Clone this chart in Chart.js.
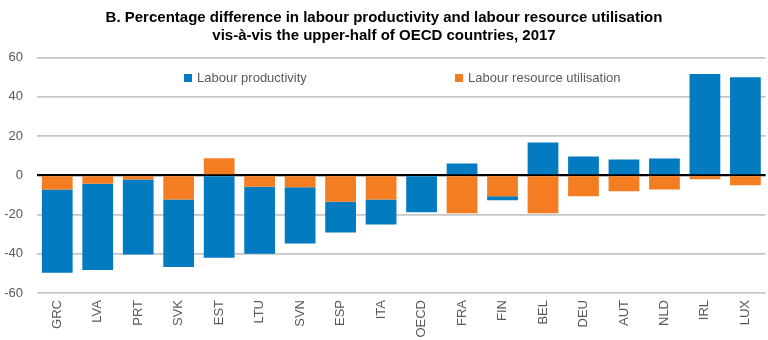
<!DOCTYPE html>
<html>
<head>
<meta charset="utf-8">
<script src="https://cdn.jsdelivr.net/npm/chart.js@4"></script>
<style>
  html, body { margin: 0; padding: 0; background: #fff; }
  #wrap { width: 768px; height: 340px; }
</style>
</head>
<body>
<div id="wrap"><canvas id="chart"></canvas></div>
<script>
const countries = ['GRC', 'LVA', 'PRT', 'SVK', 'EST', 'LTU', 'SVN', 'ESP', 'ITA', 'OECD', 'FRA', 'FIN', 'BEL', 'DEU', 'AUT', 'NLD', 'IRL', 'LUX'];
const productivity = [-42.5, -44, -38.2, -34.4, -42, -34.2, -28.7, -15.7, -12.7, -18.9, 6, -2.1, 16.7, 9.6, 8, 8.5, 51.6, 50];
const utilisation = [-7.2, -4.3, -2.2, -12.4, 8.7, -5.8, -6.1, -13.5, -12.4, 0, -19.4, -10.7, -19.4, -10.7, -8.2, -7.2, -2, -5.1];
const yTicks = [-60, -40, -20, 0, 20, 40, 60];

const FONT = "'Liberation Sans Narrow', 'Arial Narrow', 'Liberation Sans', Arial, sans-serif";
const BLUE = '#037bc1';
const ORANGE = '#f47d22';
const GREY_TEXT = '#595959';

// legend sits inside the plot, blue entry first
const innerLegend = {
    id: 'innerLegend',
    afterDraw(chart) {
        const ctx = chart.ctx;
        const items = [
            { ds: chart.data.datasets[1], x: 184 },
            { ds: chart.data.datasets[0], x: 455 }
        ];
        ctx.save();
        ctx.font = '13px ' + FONT;
        ctx.textBaseline = 'middle';
        ctx.fillStyle = GREY_TEXT;
        for (const it of items) {
            ctx.fillStyle = it.ds.backgroundColor;
            ctx.fillRect(it.x, 74, 8, 8);
            ctx.fillStyle = GREY_TEXT;
            ctx.fillText(it.ds.label, it.x + 13, 78);
        }
        ctx.restore();
    }
};

const ctx = document.getElementById('chart').getContext('2d');
new Chart(ctx, {
    type: 'bar',
    data: {
        labels: countries,
        datasets: [{
            // stacked first so it sits next to the zero line
            label: 'Labour resource utilisation',
            data: utilisation,
            backgroundColor: ORANGE,
            borderWidth: 0
        }, {
            label: 'Labour productivity',
            data: productivity,
            backgroundColor: BLUE,
            borderWidth: 0
        }]
    },
    options: {
        responsive: true,
        maintainAspectRatio: false,
        animation: false,
        layout: { padding: 0 },
        barPercentage: 0.76,
        categoryPercentage: 1,
        plugins: {
            legend: { display: false },
            tooltip: { enabled: false },
            title: {
                display: true,
                text: ['B. Percentage difference in labour productivity and labour resource utilisation',
                       'vis-\u00e0-vis the upper-half of OECD countries, 2017'],
                color: '#000',
                font: { family: FONT, size: 15, weight: 'bold', lineHeight: 1.25 },
                padding: { top: 8, bottom: 12 }
            }
        },
        scales: {
            x: {
                stacked: true,
                grid: { display: false, drawTicks: false },
                border: { display: false },
                ticks: {
                    color: GREY_TEXT,
                    font: { family: FONT, size: 13 },
                    minRotation: 90,
                    maxRotation: 90,
                    padding: 7
                },
                afterFit: s => { s.height = 47; }
            },
            y: {
                stacked: true,
                min: -60,
                max: 60,
                afterBuildTicks: s => { s.ticks = yTicks.map(v => ({ value: v })); },
                grid: {
                    drawTicks: false,
                    color: c => c.tick && c.tick.value === 0 ? '#000' : '#c6c6c6',
                    lineWidth: c => c.tick && c.tick.value === 0 ? 2.2 : 1.8
                },
                border: { display: false },
                ticks: {
                    color: GREY_TEXT,
                    font: { family: FONT, size: 13 },
                    padding: 14
                },
                afterFit: s => { s.width = 37; }
            }
        }
    },
    plugins: [innerLegend]
});
</script>
</body>
</html>
